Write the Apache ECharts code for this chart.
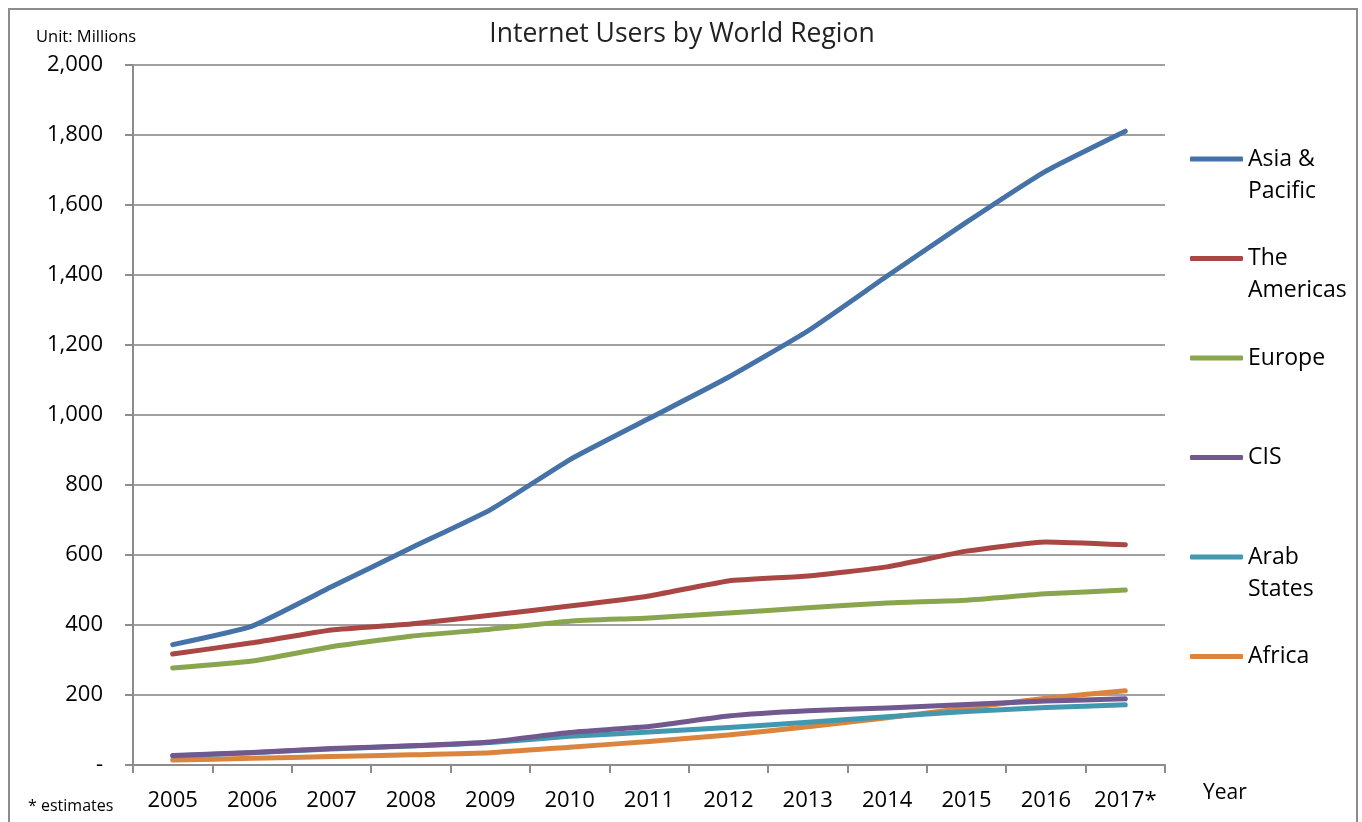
<!DOCTYPE html>
<html>
<head>
<meta charset="utf-8">
<script src="https://cdn.jsdelivr.net/npm/echarts@6/dist/echarts.min.js"></script>
<style>
html,body{margin:0;padding:0;background:#fff;}
#chart{width:1362px;height:822px;}
</style>
</head>
<body>
<div id="chart"></div>
<script>
var years = ['2005','2006','2007','2008','2009','2010','2011','2012','2013','2014','2015','2016','2017*'];
var yTicks = [0, 200, 400, 600, 800, 1000, 1200, 1400, 1600, 1800, 2000];
var asiaPacific = [344, 397, 509, 620, 729, 872, 990, 1108, 1240, 1397, 1551, 1697, 1811];
var americas    = [317, 349, 386, 403, 428, 454, 483, 526, 540, 566, 611, 637, 629];
var europe      = [277, 297, 338, 368, 388, 411, 420, 434, 449, 463, 471, 489, 500];
var cis         = [27, 36, 47, 55, 66, 93, 110, 140, 155, 163, 173, 183, 189];
var arabStates  = [26, 35, 46, 54, 64, 82, 94, 107, 122, 138, 153, 164, 172];
var africa      = [14, 19, 24, 29, 35, 51, 67, 86, 109, 135, 163, 191, 212];

var seriesNames = ['Asia &\nPacific', 'The\nAmericas', 'Europe', 'CIS', 'Arab\nStates', 'Africa'];
var seriesData = [asiaPacific, americas, europe, cis, arabStates, africa];
var colors = ['#4572A7', '#AA4643', '#89A54E', '#71588F', '#4198AF', '#DB843D'];

var FONT = '"Open Sans", Lato, sans-serif';

var series = seriesNames.map(function (n, i) {
  return {
    name: n,
    type: 'line',
    data: seriesData[i],
    symbol: 'none',
    smooth: 0.15,
    lineStyle: { color: colors[i], width: 5, cap: 'round', join: 'round' },
    itemStyle: { color: colors[i] },
    z: 10 - i
  };
});

var chart = echarts.init(document.getElementById('chart'), null, { renderer: 'canvas' });
chart.setOption({
  animation: false,
  backgroundColor: '#fff',
  textStyle: { fontFamily: FONT },
  title: {
    text: 'Internet Users by World Region',
    left: 677, top: 16, textAlign: 'center',
    textStyle: { fontFamily: FONT, fontSize: 26.5, fontWeight: 'normal', color: '#222' }
  },
  grid: { left: 133, right: 197, top: 65, bottom: 57, containLabel: false },
  legend: {
    orient: 'vertical',
    left: 1185, top: 106,
    itemGap: 3.5,
    itemWidth: 53, itemHeight: 5,
    icon: 'roundRect',
    data: seriesNames,
    formatter: function (name) {
      // first text line sits level with the legend line, like the reference
      return name.indexOf('\n') >= 0 ? ' \n' + name : ' \n' + name + '\n ';
    },
    textStyle: { fontFamily: FONT, fontSize: 23, color: '#000', lineHeight: 32 },
    selectedMode: false
  },
  xAxis: {
    type: 'category',
    data: years,
    boundaryGap: true,
    axisLine: { show: true, lineStyle: { color: '#8c8c8c', width: 2 } },
    axisTick: { show: true, length: 8, inside: false, alignWithLabel: false, lineStyle: { color: '#8c8c8c', width: 2 } },
    axisLabel: { fontFamily: FONT, fontSize: 22, color: '#000', margin: 25, interval: 0 },
    splitLine: { show: false }
  },
  yAxis: {
    type: 'value',
    min: yTicks[0], max: yTicks[yTicks.length - 1], interval: yTicks[1] - yTicks[0],
    axisLine: { show: true, lineStyle: { color: '#8c8c8c', width: 2 } },
    axisTick: { show: true, length: 8, lineStyle: { color: '#8c8c8c', width: 2 } },
    axisLabel: {
      fontFamily: FONT, fontSize: 22, color: '#000', margin: 30,
      formatter: function (v) { return v === 0 ? '-' : v.toLocaleString('en-US'); }
    },
    splitLine: { show: true, lineStyle: { color: '#a0a0a0', width: 2 } }
  },
  graphic: [
    { type: 'rect', shape: { x: 9, y: 9, width: 1348, height: 830 }, style: { fill: 'none', stroke: '#8c8c8c', lineWidth: 2 }, silent: true },
    { type: 'text', left: 36, top: 29, style: { text: 'Unit: Millions', font: '16.5px ' + FONT, fill: '#000' } },
    { type: 'text', left: 28, top: 798, style: { text: '* estimates', font: '16px ' + FONT, fill: '#000' } },
    { type: 'text', left: 1203, top: 783, style: { text: 'Year', font: '21px ' + FONT, fill: '#000' } }
  ],
  series: series
});
</script>
</body>
</html>
